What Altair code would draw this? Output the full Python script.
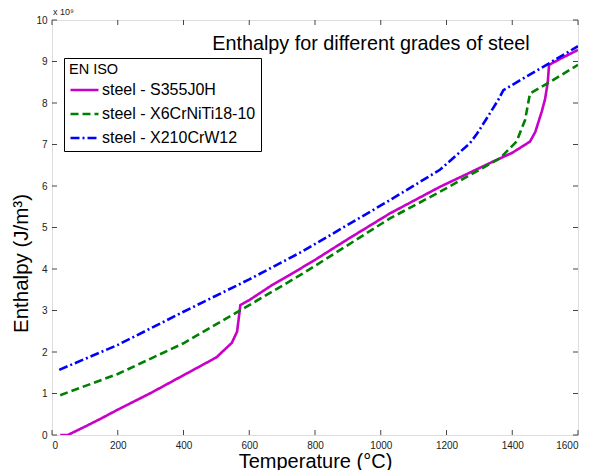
import altair as alt
import pandas as pd

# ---- data ----
series_names = ["steel - S355J0H", "steel - X6CrNiTi18-10", "steel - X210CrW12"]

s355_T = [25, 48, 100, 150, 200, 300, 400, 500, 547, 563, 573, 600, 669, 724, 800, 900, 1028, 1180, 1342, 1400, 1454, 1470, 1480, 1490, 1500, 1508, 1512, 1550, 1600]
s355_H = [0.0, 0.0, 0.20, 0.40, 0.61, 1.01, 1.44, 1.87, 2.22, 2.49, 3.13, 3.25, 3.61, 3.86, 4.22, 4.72, 5.34, 5.98, 6.59, 6.80, 7.07, 7.30, 7.55, 7.80, 8.10, 8.50, 8.92, 9.08, 9.28]

x6_T = [25, 200, 400, 600, 761, 1028, 1180, 1363, 1413, 1439, 1454, 1515, 1600]
x6_H = [0.96, 1.47, 2.21, 3.13, 3.88, 5.22, 5.86, 6.67, 7.07, 7.59, 8.23, 8.51, 8.92]

x210_T = [22, 200, 400, 600, 761, 1028, 1180, 1271, 1292, 1332, 1357, 1373, 1515, 1600]
x210_H = [1.57, 2.17, 2.97, 3.75, 4.42, 5.66, 6.39, 7.03, 7.25, 7.75, 8.07, 8.31, 8.97, 9.37]

x_ticks = [0, 200, 400, 600, 800, 1000, 1200, 1400, 1600]
y_ticks = [0, 1, 2, 3, 4, 5, 6, 7, 8, 9, 10]

colors = ["#c800c8", "#008000", "#0000ff"]
dashes = [[1, 0], [8, 4], [9, 3, 2, 3]]

W, H = 526, 415

rows = []
for name, ts, hs in [(series_names[0], s355_T, s355_H),
                     (series_names[1], x6_T, x6_H),
                     (series_names[2], x210_T, x210_H)]:
    for i, (t, h) in enumerate(zip(ts, hs)):
        rows.append({"series": name, "T": t, "H": h, "order": i})
df = pd.DataFrame(rows)

xscale = alt.Scale(domain=[0, 1600], nice=False, zero=False)
yscale = alt.Scale(domain=[0, 10], nice=False, zero=False)

lines = alt.Chart(df).mark_line(strokeWidth=2.6, clip=True).encode(
    x=alt.X("T:Q", scale=xscale,
            axis=alt.Axis(values=x_ticks, format="d", ticks=False, domain=False, grid=False,
                          labelFontSize=10, labelPadding=5, labelColor="#222",
                          labelFont="Liberation Sans",
                          title="Temperature (°C)", titleFontSize=20,
                          titleFontWeight="normal", titleFont="Liberation Sans",
                          titlePadding=1, titleColor="#000")),
    y=alt.Y("H:Q", scale=yscale,
            axis=alt.Axis(values=y_ticks, format="d", ticks=False, domain=False, grid=False,
                          labelFontSize=10, labelPadding=5, labelColor="#222",
                          labelFont="Liberation Sans",
                          title="Enthalpy (J/m³)", titleFontSize=20.5,
                          titleFontWeight="normal", titleFont="Liberation Sans",
                          titleX=-21, titleY=243, titleColor="#000")),
    color=alt.Color("series:N", sort=series_names,
                    scale=alt.Scale(domain=series_names, range=colors),
                    legend=alt.Legend(title="EN ISO", orient="none",
                                      legendX=12, legendY=38,
                                      symbolType="stroke", symbolSize=784,
                                      symbolStrokeWidth=2.6,
                                      labelFontSize=16, labelFont="Liberation Sans",
                                      titleFontSize=14.5, titleFont="Liberation Sans",
                                      titleFontWeight="normal", titleColor="#000",
                                      titlePadding=-3,
                                      labelColor="#000", labelOffset=2,
                                      rowPadding=-5, padding=5,
                                      strokeColor="#000", fillColor="#fff",
                                      labelLimit=300)),
    strokeDash=alt.StrokeDash("series:N", sort=series_names,
                              scale=alt.Scale(domain=series_names, range=dashes),
                              legend=None),
    order="order:Q",
)

title_df = pd.DataFrame({"label": ["Enthalpy for different grades of steel"]})
title = alt.Chart(title_df).mark_text(fontSize=19.8, font="Liberation Sans",
                                      color="#000", align="center",
                                      baseline="alphabetic").encode(
    text="label:N", x=alt.value(319), y=alt.value(29.5))

exp_df = pd.DataFrame({"label": ["x 10⁹"]})
expo = alt.Chart(exp_df).mark_text(fontSize=9, font="Liberation Sans",
                                   color="#222", align="left",
                                   baseline="alphabetic").encode(
    text="label:N", x=alt.value(1), y=alt.value(-5))

xt = pd.DataFrame({"T": x_ticks})
yt = pd.DataFrame({"H": y_ticks})
tick_color = "#444"
bottom_ticks = alt.Chart(xt).mark_rule(color=tick_color, strokeWidth=1).encode(
    x=alt.X("T:Q", scale=xscale), y=alt.value(H), y2=alt.value(H - 5))
top_ticks = alt.Chart(xt).mark_rule(color=tick_color, strokeWidth=1).encode(
    x=alt.X("T:Q", scale=xscale), y=alt.value(0), y2=alt.value(5))
left_ticks = alt.Chart(yt).mark_rule(color=tick_color, strokeWidth=1).encode(
    y=alt.Y("H:Q", scale=yscale), x=alt.value(0), x2=alt.value(5))
right_ticks = alt.Chart(yt).mark_rule(color=tick_color, strokeWidth=1).encode(
    y=alt.Y("H:Q", scale=yscale), x=alt.value(W), x2=alt.value(W - 5))

chart = alt.layer(bottom_ticks, top_ticks, left_ticks, right_ticks,
                  lines, title, expo).properties(
    width=W, height=H,
    autosize=alt.AutoSizeParams(type="none"),
    padding={"left": 44, "top": 12, "right": 9, "bottom": 35},
).configure_view(stroke="#444", strokeWidth=1.2).configure(background="#fff")

chart.save("out.html", embed_options={"renderer": "svg", "actions": False})
